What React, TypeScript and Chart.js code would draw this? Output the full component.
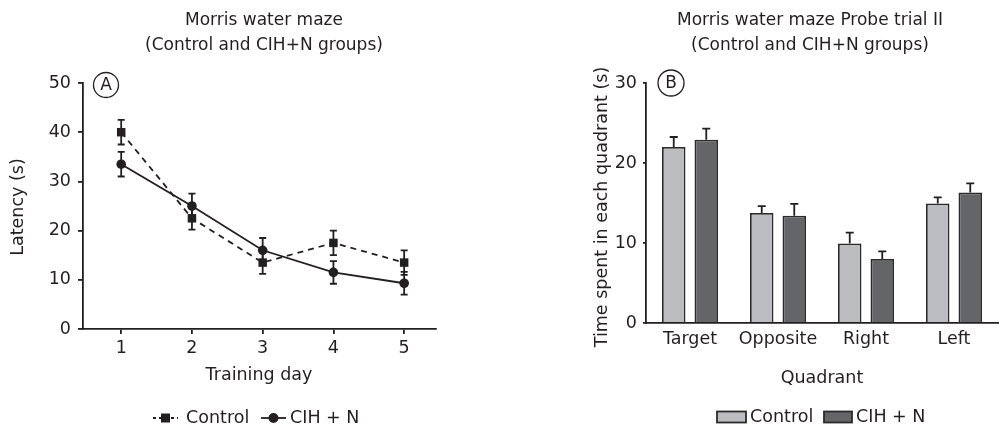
import React, { useEffect, useRef } from 'react';
import { Chart, registerables } from 'chart.js';

Chart.register(...registerables);

// ---- Panel A data ----
const days = [1, 2, 3, 4, 5];
const controlLatency = [40, 22.5, 13.5, 17.5, 13.5];
const controlLatencyErr = [2.5, 2.3, 2.3, 2.5, 2.5];
const cihLatency = [33.5, 25, 16, 11.5, 9.3];
const cihLatencyErr = [2.5, 2.5, 2.5, 2.3, 2.3];
const latencyTicks = [0, 10, 20, 30, 40, 50];

// ---- Panel B data ----
const quadrants = ['Target', 'Opposite', 'Right', 'Left'];
const controlTime = [22.0, 13.75, 9.95, 14.95];
const controlTimeErr = [1.25, 0.85, 1.35, 0.75];
const cihTime = [22.9, 13.4, 8.0, 16.3];
const cihTimeErr = [1.4, 1.5, 0.95, 1.15];
const timeTicks = [0, 10, 20, 30];

const FONT = '"DejaVu Sans", sans-serif';
const INK = '#231f20';
const LIGHT = '#bcbdc0';
const DARK = '#646569';
const EDGE = '#2b2b2b';
const TICK_SIZE = 17.5;
const TEXT_SIZE = 17.5;

function drawErrors(chart: any, opts: any) {
  const ctx = chart.ctx;
  const yScale = chart.scales.y;
  ctx.save();
  ctx.strokeStyle = opts.color || INK;
  ctx.lineWidth = opts.lineWidth || 1.8;
  ctx.setLineDash([]);
  chart.data.datasets.forEach((ds: any, i: number) => {
    const meta = chart.getDatasetMeta(i);
    const errs = opts.errors[i];
    meta.data.forEach((el: any, j: number) => {
      const raw = ds.data[j];
      const v = typeof raw === 'number' ? raw : raw.y;
      const e = errs[j];
      const top = yScale.getPixelForValue(v + e);
      const bottom = opts.upOnly ? yScale.getPixelForValue(v) : yScale.getPixelForValue(v - e);
      const x = el.x;
      const cap = opts.cap || 4;
      ctx.beginPath();
      ctx.moveTo(x, top);
      ctx.lineTo(x, bottom);
      ctx.moveTo(x - cap, top);
      ctx.lineTo(x + cap, top);
      if (!opts.upOnly) {
        ctx.moveTo(x - cap, bottom);
        ctx.lineTo(x + cap, bottom);
      }
      ctx.stroke();
    });
  });
  ctx.restore();
}

const errorBarPlugin = {
  id: 'errorBars',
  beforeDatasetsDraw(chart: any, _a: any, opts: any) {
    if (opts && opts.errors && !opts.after) drawErrors(chart, opts);
  },
  afterDatasetsDraw(chart: any, _a: any, opts: any) {
    if (opts && opts.errors && opts.after) drawErrors(chart, opts);
  },
};

const decorPlugin = {
  id: 'decor',
  afterDraw(chart: any, _a: any, opts: any) {
    if (!opts || !opts.texts) return;
    const ctx = chart.ctx;
    ctx.save();
    ctx.fillStyle = INK;
    ctx.strokeStyle = INK;
    ctx.textBaseline = 'middle';
    for (const t of opts.texts) {
      ctx.save();
      ctx.font = `${t.size || TEXT_SIZE}px ${FONT}`;
      ctx.textAlign = t.align || 'center';
      ctx.translate(t.x, t.y);
      if (t.rotate) ctx.rotate(t.rotate);
      ctx.fillText(t.text, 0, 0);
      ctx.restore();
    }
    if (opts.circle) {
      const c = opts.circle;
      ctx.lineWidth = 1.3;
      ctx.beginPath();
      ctx.arc(c.x, c.y, c.r, 0, Math.PI * 2);
      ctx.stroke();
      ctx.font = `${c.size}px ${FONT}`;
      ctx.textAlign = 'center';
      ctx.fillText(c.letter, c.x, c.y + 1);
    }
    if (opts.legend) {
      for (const item of opts.legend) {
        ctx.save();
        if (item.kind === 'line') {
          ctx.lineWidth = 1.8;
          ctx.setLineDash(item.dash || []);
          ctx.beginPath();
          ctx.moveTo(item.x0, item.y);
          ctx.lineTo(item.x1, item.y);
          ctx.stroke();
          ctx.setLineDash([]);
          const cx = (item.x0 + item.x1) / 2;
          ctx.beginPath();
          if (item.marker === 'rect') {
            ctx.rect(cx - 4.5, item.y - 4.5, 9, 9);
          } else {
            ctx.arc(cx, item.y, 5, 0, Math.PI * 2);
          }
          ctx.fill();
        } else {
          ctx.fillStyle = item.fill;
          ctx.fillRect(item.x0, item.y - 5.5, item.x1 - item.x0, 11);
          ctx.lineWidth = 1.8;
          ctx.strokeStyle = EDGE;
          ctx.strokeRect(item.x0, item.y - 5.5, item.x1 - item.x0, 11);
        }
        ctx.restore();
        ctx.font = `${TEXT_SIZE}px ${FONT}`;
        ctx.textAlign = 'left';
        ctx.fillStyle = INK;
        ctx.fillText(item.label, item.tx, item.y);
      }
    }
    ctx.restore();
  },
};

function LatencyChart() {
  const ref = useRef<HTMLCanvasElement>(null);
  useEffect(() => {
    const chart = new Chart(ref.current as HTMLCanvasElement, {
      type: 'line',
      data: {
        datasets: [
          {
            label: 'Control',
            data: days.map((d, i) => ({ x: d, y: controlLatency[i] })),
            borderColor: INK,
            backgroundColor: INK,
            borderWidth: 1.8,
            borderDash: [6, 5],
            pointStyle: 'rect',
            pointRadius: 6,
            pointBorderWidth: 0,
            pointBackgroundColor: INK,
            tension: 0,
          },
          {
            label: 'CIH + N',
            data: days.map((d, i) => ({ x: d, y: cihLatency[i] })),
            borderColor: INK,
            backgroundColor: INK,
            borderWidth: 1.8,
            pointStyle: 'circle',
            pointRadius: 4.8,
            pointBorderWidth: 0,
            pointBackgroundColor: INK,
            tension: 0,
          },
        ],
      },
      options: {
        responsive: false,
        animation: false,
        devicePixelRatio: 1,
        layout: { padding: { top: 83, right: 64, left: 0, bottom: 0 } },
        scales: {
          x: {
            type: 'linear',
            min: 0.46,
            max: 5.45,
            afterBuildTicks: (s: any) => {
              s.ticks = days.map((v) => ({ value: v }));
            },
            afterFit: (s: any) => {
              s.height = 98;
            },
            ticks: { color: INK, padding: 4, font: { family: FONT, size: TICK_SIZE } },
            grid: { drawOnChartArea: false, drawTicks: true, tickLength: 5, color: INK, lineWidth: 1.8 },
            border: { color: INK, width: 1.8 },
          },
          y: {
            min: 0,
            max: 50,
            afterBuildTicks: (s: any) => {
              s.ticks = latencyTicks.map((v) => ({ value: v }));
            },
            afterFit: (s: any) => {
              s.width = 83;
            },
            ticks: { color: INK, padding: 7, font: { family: FONT, size: TICK_SIZE } },
            grid: { drawOnChartArea: false, drawTicks: true, tickLength: 5, color: INK, lineWidth: 1.8 },
            border: { color: INK, width: 1.8 },
          },
        },
        plugins: {
          legend: { display: false },
          title: { display: false },
          tooltip: { enabled: false },
          errorBars: { errors: [controlLatencyErr, cihLatencyErr], cap: 3.5, upOnly: false, after: false },
          decor: {
            texts: [
              { text: 'Morris water maze', x: 264, y: 21, size: 17 },
              { text: '(Control and CIH+N groups)', x: 264, y: 46, size: 17 },
              { text: 'Latency (s)', x: 18, y: 207 },
              { text: 'Training day', x: 259, y: 375 },
            ].map((t: any) => (t.text === 'Latency (s)' ? { ...t, rotate: -Math.PI / 2 } : t)),
            circle: { x: 106, y: 85, r: 12.5, letter: 'A', size: 17 },
            legend: [
              { kind: 'line', dash: [3, 3], marker: 'rect', x0: 153, x1: 178, y: 418, label: 'Control', tx: 186 },
              { kind: 'line', dash: [], marker: 'circle', x0: 261, x1: 286, y: 418, label: 'CIH + N', tx: 290 },
            ],
          },
        } as any,
      },
      plugins: [errorBarPlugin, decorPlugin],
    } as any);
    return () => chart.destroy();
  }, []);
  return <canvas ref={ref} width={500} height={427} style={{ position: 'absolute', left: 0, top: 0 }} />;
}

function QuadrantChart() {
  const ref = useRef<HTMLCanvasElement>(null);
  useEffect(() => {
    const chart = new Chart(ref.current as HTMLCanvasElement, {
      type: 'bar',
      data: {
        labels: quadrants,
        datasets: [
          {
            label: 'Control',
            data: controlTime,
            backgroundColor: LIGHT,
            borderColor: EDGE,
            borderWidth: 1.8,
            categoryPercentage: 0.739,
            barPercentage: 0.723,
          },
          {
            label: 'CIH + N',
            data: cihTime,
            backgroundColor: DARK,
            borderColor: EDGE,
            borderWidth: 1.8,
            categoryPercentage: 0.739,
            barPercentage: 0.723,
          },
        ],
      },
      options: {
        responsive: false,
        animation: false,
        devicePixelRatio: 1,
        layout: { padding: { top: 83, right: 1, left: 0, bottom: 0 } },
        scales: {
          x: {
            type: 'category',
            offset: true,
            afterFit: (s: any) => {
              s.height = 104;
            },
            ticks: { color: INK, padding: 6, font: { family: FONT, size: TICK_SIZE } },
            grid: { display: false, drawTicks: false },
            border: { display: true, color: INK, width: 1.8 },
          },
          y: {
            min: 0,
            max: 30,
            afterBuildTicks: (s: any) => {
              s.ticks = timeTicks.map((v) => ({ value: v }));
            },
            afterFit: (s: any) => {
              s.width = 146;
            },
            ticks: { color: INK, padding: 6, font: { family: FONT, size: TICK_SIZE } },
            grid: { drawOnChartArea: false, drawTicks: true, tickLength: 3, color: INK, lineWidth: 1.8 },
            border: { color: INK, width: 1.8 },
          },
        },
        plugins: {
          legend: { display: false },
          title: { display: false },
          tooltip: { enabled: false },
          errorBars: { errors: [controlTimeErr, cihTimeErr], cap: 4, upOnly: true, after: true },
          decor: {
            texts: [
              { text: 'Morris water maze Probe trial II', x: 310, y: 21, size: 17 },
              { text: '(Control and CIH+N groups)', x: 310, y: 46, size: 17 },
              { text: 'Time spent in each quadrant (s)', x: 102, y: 207, rotate: -Math.PI / 2 },
              { text: 'Quadrant', x: 322, y: 378 },
            ],
            circle: { x: 171, y: 83, r: 13, letter: 'B', size: 17 },
            legend: [
              { kind: 'box', fill: LIGHT, x0: 217, x1: 246, y: 417, label: 'Control', tx: 250 },
              { kind: 'box', fill: DARK, x0: 324, x1: 352, y: 417, label: 'CIH + N', tx: 356 },
            ],
          },
        } as any,
      },
      plugins: [errorBarPlugin, decorPlugin],
    } as any);
    return () => chart.destroy();
  }, []);
  return <canvas ref={ref} width={499} height={427} style={{ position: 'absolute', left: 500, top: 0 }} />;
}

export default function App() {
  return (
    <div style={{ position: 'fixed', left: 0, top: 0, width: 999, height: 427, background: '#fff' }}>
      <LatencyChart />
      <QuadrantChart />
    </div>
  );
}
